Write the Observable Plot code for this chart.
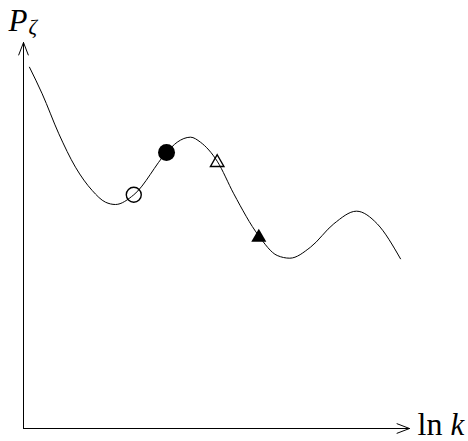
<!DOCTYPE html>
<html>
<head>
<meta charset="utf-8">
<script src="https://cdn.jsdelivr.net/npm/d3@7"></script>
<script src="https://cdn.jsdelivr.net/npm/@observablehq/plot@0.6"></script>
<style>
  html, body { margin: 0; padding: 0; background: #fff; }
</style>
</head>
<body>
<div id="chart"></div>
<script>
// Axis extents (arbitrary units: ln k horizontally, P_zeta vertically)
const xDomain = [0, 10];
const yDomain = [0, 10];

// Sketched power spectrum curve
const lnK = [0.155, 0.484, 0.915, 1.347, 1.780, 2.124, 2.383, 2.857, 3.705, 3.982, 4.326, 4.585, 5.018, 5.448, 6.088, 6.573, 6.899, 7.435, 8.039, 8.627, 9.163, 9.767];
const pZeta = [9.360, 8.671, 7.635, 6.769, 6.166, 5.863, 5.803, 6.054, 7.150, 7.417, 7.547, 7.417, 6.925, 6.080, 5.000, 4.482, 4.412, 4.697, 5.303, 5.630, 5.303, 4.396];

// Highlighted points
const markerX = [2.857, 3.705, 5.018, 6.096];
const markerY = [6.054, 7.150, 6.890, 4.950];
const markerKind = ["open circle", "filled circle", "open triangle", "filled triangle"];

// Axis labels
const yLabelMain = "P";
const yLabelSub = "ζ";
const xLabelFn = "ln";
const xLabelVar = "k";

const curve = lnK.map((x, i) => ({x, y: pZeta[i]}));
const markers = markerX.map((x, i) => ({x, y: markerY[i], kind: markerKind[i]}));
const axes = [
  {x1: xDomain[0], y1: yDomain[0], x2: xDomain[1], y2: yDomain[0]},
  {x1: xDomain[0], y1: yDomain[0], x2: xDomain[0], y2: yDomain[1]}
];
const serif = "'Liberation Serif', 'DejaVu Serif', serif";

const chart = Plot.plot({
  width: 468,
  height: 441,
  marginLeft: 23,
  marginRight: 59,
  marginTop: 42,
  marginBottom: 13,
  x: {domain: xDomain, axis: null},
  y: {domain: yDomain, axis: null},
  style: {background: "#fff"},
  marks: [
    Plot.arrow(axes, {x1: "x1", y1: "y1", x2: "x2", y2: "y2", stroke: "black", strokeWidth: 1, headLength: 20, headAngle: 42}),
    Plot.line(curve, {x: "x", y: "y", curve: "monotone-x", stroke: "black", strokeWidth: 1}),
    Plot.dot(markers.filter(d => d.kind === "open circle"), {x: "x", y: "y", r: 7.5, fill: "none", stroke: "black", strokeWidth: 1.4}),
    Plot.dot(markers.filter(d => d.kind === "filled circle"), {x: "x", y: "y", r: 8.5, fill: "black", stroke: "none"}),
    Plot.dot(markers.filter(d => d.kind === "open triangle"), {x: "x", y: "y", symbol: "triangle", r: 5.0, fill: "none", stroke: "black", strokeWidth: 1.4}),
    Plot.dot(markers.filter(d => d.kind === "filled triangle"), {x: "x", y: "y", symbol: "triangle", r: 5.6, fill: "black", stroke: "none"}),
    Plot.text([yLabelMain], {x: xDomain[0], y: yDomain[1], text: d => d, textAnchor: "start", lineAnchor: "bottom", dx: -15, dy: -12, fontSize: 31, fontStyle: "italic", fontFamily: serif, fill: "black"}),
    Plot.text([yLabelSub], {x: xDomain[0], y: yDomain[1], text: d => d, textAnchor: "start", lineAnchor: "bottom", dx: 5, dy: -9, fontSize: 21, fontStyle: "italic", fontFamily: serif, fill: "black"}),
    Plot.text([xLabelFn], {x: xDomain[1], y: yDomain[0], text: d => d, textAnchor: "start", lineAnchor: "bottom", dx: 8, dy: 6, fontSize: 32, fontFamily: serif, fill: "black"}),
    Plot.text([xLabelVar], {x: xDomain[1], y: yDomain[0], text: d => d, textAnchor: "start", lineAnchor: "bottom", dx: 41, dy: 6, fontSize: 31, fontStyle: "italic", fontFamily: serif, fill: "black"})
  ]
});
document.getElementById("chart").appendChild(chart);
</script>
</body>
</html>
